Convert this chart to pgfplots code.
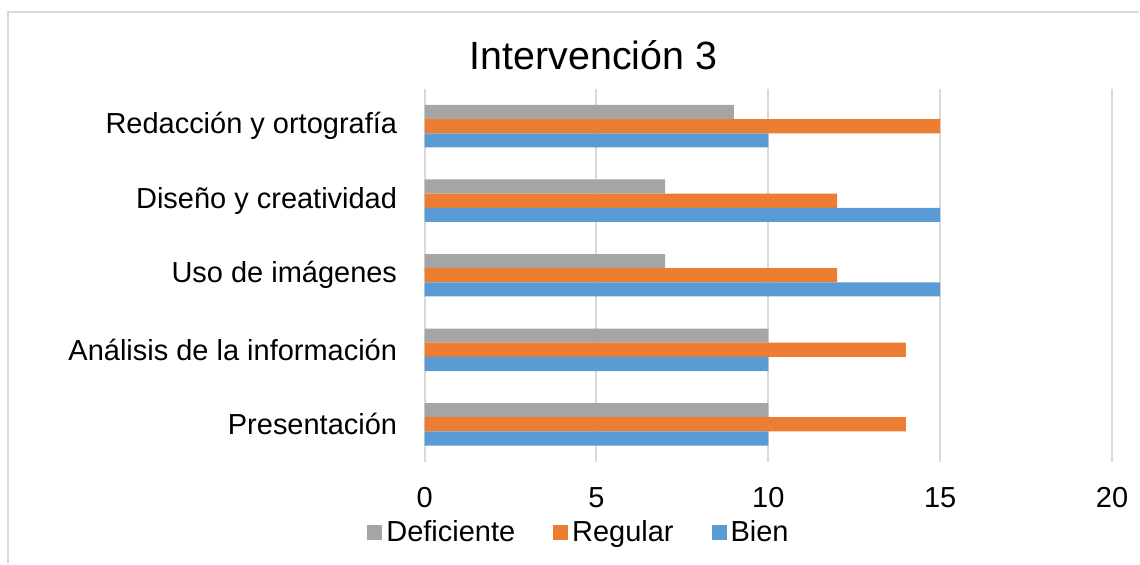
\documentclass[border=0pt]{standalone}
\usepackage{pgfplots}
\pgfplotsset{compat=1.18}
\usepackage{fontspec}
\setmainfont{Liberation Sans}

\definecolor{cBien}{HTML}{5B9BD5}
\definecolor{cRegular}{HTML}{ED7D31}
\definecolor{cDef}{HTML}{A5A5A5}
\definecolor{cGrid}{HTML}{D9D9D9}

\begin{document}
\begin{tikzpicture}[x=0.5pt,y=0.5pt]
% canvas (1px = 0.5pt), origin at lower left of plot area
\path (-425,-102) rectangle (715,462);
\draw[cGrid, line width=1pt] (-416.5,-102) -- (-416.5,449.5) -- (715,449.5);
\begin{axis}[
    at={(0,0)}, anchor=south west,
    scale only axis,
    width=344pt, height=186.5pt,
    xbar, bar width=0.19,
    xmin=0, xmax=20,
    ymin=-0.5, ymax=4.5,
    xtick={0,5,10,15,20},
    ytick={0,1,2,3,4},
    yticklabels={Presentación, Análisis de la información, Uso de imágenes, Diseño y creatividad, Redacción y ortografía},
    axis line style={draw=none},
    tick style={draw=none},
    xmajorgrids, grid style={cGrid, line width=1pt},
    /pgf/number format/assume math mode=true,
    tick label style={font=\fontsize{14.5}{17}\selectfont},
    xticklabel style={yshift=-9.5pt},
    yticklabel style={xshift=-6pt},
    legend columns=3,
    legend style={draw=none, font=\fontsize{14.5}{17}\selectfont,
        at={(0.226,-0.19)}, anchor=center,
        /tikz/every even column/.append style={column sep=17pt},
        nodes={inner xsep=2pt},
        inner sep=0pt},
    legend image code/.code={\fill[#1] (-2.5pt,-3.75pt) rectangle (5pt,3.75pt);},
]
\addplot[draw=none, fill=cDef, bar shift=0.19] coordinates {
    (10,0) (10,1) (7,2) (7,3) (9,4)
};
\addplot[draw=none, fill=cRegular, bar shift=0] coordinates {
    (14,0) (14,1) (12,2) (12,3) (15,4)
};
\addplot[draw=none, fill=cBien, bar shift=-0.19] coordinates {
    (10,0) (10,1) (15,2) (15,3) (10,4)
};
\legend{Deficiente, Regular, Bien}
\end{axis}
\node[font=\fontsize{19.7}{23}\selectfont] at (169,407) {Intervención 3};
\end{tikzpicture}
\end{document}
